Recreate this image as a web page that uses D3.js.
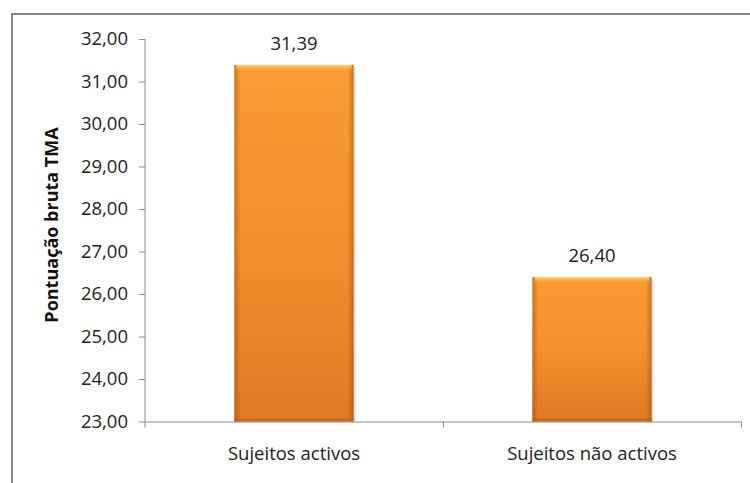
<!DOCTYPE html>
<html>
<head>
<meta charset="utf-8">
<script src="https://cdn.jsdelivr.net/npm/d3@7"></script>
<style>
  body { margin: 0; background: #fff; }
  svg { display: block; font-family: "Open Sans", sans-serif; }
  .axis path, .axis line { stroke: #8c8c8c; }
  .axis text { fill: #222; font-size: 18.5px; font-family: "Open Sans", sans-serif; }
</style>
</head>
<body>
<svg id="chart"></svg>
<script>
const categories = ["Sujeitos activos", "Sujeitos não activos"];
const values = [31.39, 26.40];
const yTicks = [23, 24, 25, 26, 27, 28, 29, 30, 31, 32];

const W = 750, H = 483;
const marginLeft = 145, marginTop = 39;
const width = 741 - marginLeft;
const height = 421.5 - marginTop;

const fmt = v => d3.format(".2f")(v).replace(".", ",");

const svg = d3.select("#chart")
    .attr("width", W)
    .attr("height", H);

// outer frame (runs off the right and bottom edges)
svg.append("rect")
    .attr("x", 12).attr("y", 14)
    .attr("width", 760).attr("height", 490)
    .attr("fill", "none")
    .attr("stroke", "#868686")
    .attr("stroke-width", 2);

const defs = svg.append("defs");
const gv = defs.append("linearGradient").attr("id", "barV")
    .attr("x1", 0).attr("y1", 0).attr("x2", 0).attr("y2", 1);
gv.append("stop").attr("offset", "0%").attr("stop-color", "#fb9c35");
gv.append("stop").attr("offset", "50%").attr("stop-color", "#f48f2e");
gv.append("stop").attr("offset", "100%").attr("stop-color", "#df7a25");

const gh = defs.append("linearGradient").attr("id", "barH")
    .attr("x1", 0).attr("y1", 0).attr("x2", 1).attr("y2", 0);
gh.append("stop").attr("offset", "0%").attr("stop-color", "#8a4200").attr("stop-opacity", 0.45);
gh.append("stop").attr("offset", "5%").attr("stop-color", "#8a4200").attr("stop-opacity", 0);
gh.append("stop").attr("offset", "95%").attr("stop-color", "#8a4200").attr("stop-opacity", 0);
gh.append("stop").attr("offset", "100%").attr("stop-color", "#8a4200").attr("stop-opacity", 0.45);

const gt = defs.append("linearGradient").attr("id", "barTop")
    .attr("x1", 0).attr("y1", 0).attr("x2", 0).attr("y2", 1);
gt.append("stop").attr("offset", "0%").attr("stop-color", "#ffd27a").attr("stop-opacity", 1);
gt.append("stop").attr("offset", "100%").attr("stop-color", "#ffb54a").attr("stop-opacity", 0);

const chart = svg.append("g")
    .attr("transform", `translate(${marginLeft}, ${marginTop})`);

const yScale = d3.scaleLinear()
    .domain([23, 32])
    .range([height, 0]);

const xScale = d3.scaleBand()
    .domain(categories)
    .range([0, width])
    .paddingInner(0.6)
    .paddingOuter(0.3);

const xEdges = d3.scaleLinear().domain([0, categories.length]).range([0, width]);

// y axis
chart.append("g")
    .attr("class", "axis")
    .call(d3.axisLeft(yScale).tickValues(yTicks).tickFormat(fmt).tickSize(6).tickSizeOuter(0).tickPadding(11))
    .call(g => g.select(".domain").attr("d", `M0,0V${height + 6}`));

// x axis line with ticks at category boundaries
chart.append("g")
    .attr("class", "axis")
    .attr("transform", `translate(0, ${height})`)
    .call(d3.axisBottom(xEdges).tickValues(d3.range(1, categories.length + 1)).tickFormat("").tickSize(6).tickSizeOuter(0));

// category labels
chart.append("g")
    .attr("class", "axis")
    .attr("transform", `translate(0, ${height})`)
    .call(d3.axisBottom(xScale).tickSize(0).tickPadding(25))
    .call(g => g.select(".domain").remove());

// bars
const bars = chart.selectAll(".bar")
    .data(values)
    .enter().append("g")
    .attr("class", "bar");

bars.append("rect")
    .attr("x", (d, i) => xScale(categories[i]) + 2)
    .attr("y", d => yScale(d) + 2)
    .attr("width", xScale.bandwidth())
    .attr("height", d => height - yScale(d) - 2)
    .attr("fill", "#000")
    .attr("opacity", 0.12);

bars.append("rect")
    .attr("x", (d, i) => xScale(categories[i]))
    .attr("y", d => yScale(d))
    .attr("width", xScale.bandwidth())
    .attr("height", d => height - yScale(d))
    .attr("fill", "url(#barV)");

bars.append("rect")
    .attr("x", (d, i) => xScale(categories[i]))
    .attr("y", d => yScale(d))
    .attr("width", xScale.bandwidth())
    .attr("height", d => height - yScale(d))
    .attr("fill", "url(#barH)");

bars.append("rect")
    .attr("x", (d, i) => xScale(categories[i]) + 2)
    .attr("y", d => yScale(d))
    .attr("width", xScale.bandwidth() - 4)
    .attr("height", 6)
    .attr("fill", "url(#barTop)");

bars.append("rect")
    .attr("x", (d, i) => xScale(categories[i]))
    .attr("y", d => height - 3)
    .attr("width", xScale.bandwidth())
    .attr("height", 3)
    .attr("fill", "#b85f18")
    .attr("opacity", 0.6);

// value labels
chart.selectAll(".val")
    .data(values)
    .enter().append("text")
    .attr("class", "val")
    .attr("x", (d, i) => xScale(categories[i]) + xScale.bandwidth() / 2)
    .attr("y", d => yScale(d) - 15)
    .attr("text-anchor", "middle")
    .attr("fill", "#222")
    .attr("font-size", "18.5px")
    .text(fmt);

// y axis title
svg.append("text")
    .attr("transform", "translate(58, 225) rotate(-90)")
    .attr("text-anchor", "middle")
    .attr("font-size", "18px")
    .attr("font-weight", "bold")
    .attr("fill", "#111")
    .text("Pontuação bruta TMA");
</script>
</body>
</html>
